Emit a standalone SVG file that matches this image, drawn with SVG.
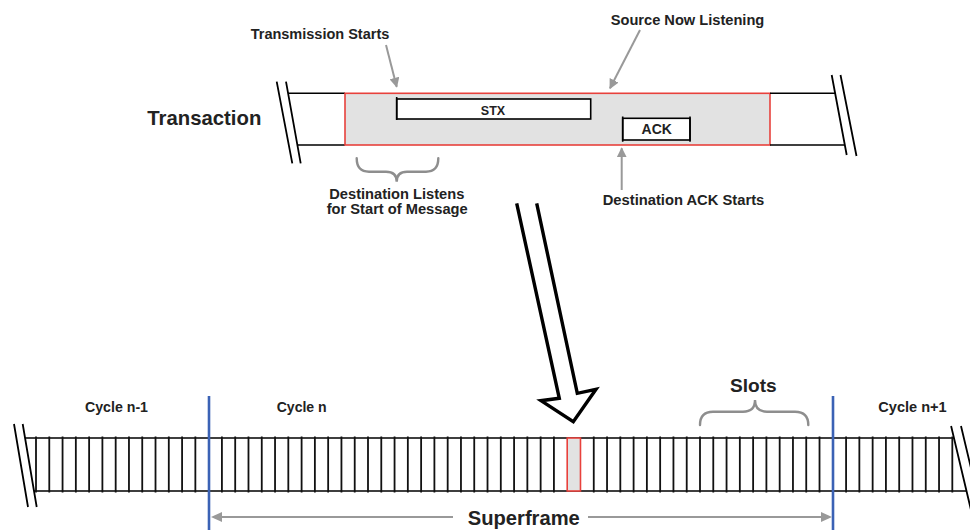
<svg xmlns="http://www.w3.org/2000/svg" width="970" height="530" viewBox="0 0 970 530">
  <style>
    .lbl { font-family: "Liberation Sans", Arial, sans-serif; font-weight: bold; fill: #222; }
    .edge { stroke: #000; stroke-width: 1.6; fill: none; }
    .tick { stroke: #111; stroke-width: 1.8; fill: none; }
    .slash { stroke: #000; stroke-width: 1.8; fill: none; }
    .window { fill: #e2e2e2; stroke: #e8413c; stroke-width: 1.6; }
    .box { fill: #fff; stroke: #000; stroke-width: 1.6; }
    .note { stroke: #999; stroke-width: 2; fill: none; }
    .brace { stroke: #8e8e8e; stroke-width: 2.4; fill: none; stroke-linecap: round; }
    .cycle { stroke: #3b62b5; stroke-width: 2.6; }
  </style>
  <defs>
    <marker id="head" viewBox="0 0 10 10" refX="9" refY="5" markerWidth="5" markerHeight="5" orient="auto" markerUnits="strokeWidth">
      <path d="M0,0 L10,5 L0,10 z" fill="#999"/>
    </marker>
  </defs>
  <rect width="970" height="530" fill="#fff"/>

  <!-- Transaction timeline -->
  <g id="transaction">
    <text class="lbl" x="147.3" y="125" font-size="21" textLength="114" lengthAdjust="spacingAndGlyphs">Transaction</text>
    <path class="slash" d="M276.7,81.7 L292.3,163.3 M286,81.7 L300.7,163.3"/>
    <path class="edge" d="M288,93.3 H345 M297.5,145 H345"/>
    <rect class="window" x="345" y="93.3" width="425" height="51.7"/>
    <path class="edge" d="M770,93.3 H835 M770,145 H845"/>
    <path class="slash" d="M831.7,75 L846.7,155 M840.5,75 L856.5,156"/>
  </g>

  <g id="stx">
    <rect class="box" x="396.7" y="99" width="194" height="20"/>
    <path class="edge" d="M396.7,97 V120"/>
    <text class="lbl" x="493" y="115" font-size="12.5" text-anchor="middle">STX</text>
  </g>

  <g id="ack">
    <rect class="box" x="622.7" y="118.3" width="67.3" height="21.7"/>
    <path class="edge" d="M622.7,116.5 V141.8 M690,116.5 V141.8"/>
    <text class="lbl" x="656.7" y="134.3" font-size="14" text-anchor="middle">ACK</text>
  </g>

  <g id="label-transmission-starts">
    <text class="lbl" x="250.7" y="39.3" font-size="14" textLength="138.6" lengthAdjust="spacingAndGlyphs">Transmission Starts</text>
  </g>
  <g id="label-source-listening">
    <text class="lbl" x="610.7" y="25" font-size="14" textLength="153.6" lengthAdjust="spacingAndGlyphs">Source Now Listening</text>
  </g>
  <g id="label-destination-ack">
    <text class="lbl" x="602.7" y="205" font-size="14" textLength="161.6" lengthAdjust="spacingAndGlyphs">Destination ACK Starts</text>
  </g>
  <g id="label-destination-listens">
    <path class="brace" d="M356.7,158.3 Q356.7,171.7 369,171.7 L386,171.7 Q396.7,171.7 396.7,181.7 Q396.7,171.7 407,171.7 L426,171.7 Q438.3,171.7 438.3,158.3"/>
    <text class="lbl" x="329.3" y="199" font-size="14" textLength="135" lengthAdjust="spacingAndGlyphs">Destination Listens</text>
    <text class="lbl" x="326.7" y="214.3" font-size="14" textLength="141" lengthAdjust="spacingAndGlyphs">for Start of Message</text>
  </g>

  <!-- Superframe slot strip -->
  <g id="slot-strip">
    <path class="slash" d="M14,424 L28,507 M22.7,424 L36.7,507"/>
    <path class="slash" d="M951.1,426 L971,510 M961,426 L981,510"/>
    <path class="edge" d="M25,438 H954 M34,491 H966.7"/>
    <path class="tick" d="M36,436.5 V492.5 M49.28,436.5 V492.5 M62.56,436.5 V492.5 M75.84,436.5 V492.5 M89.12,436.5 V492.5 M102.4,436.5 V492.5 M115.68,436.5 V492.5 M128.96,436.5 V492.5 M142.24,436.5 V492.5 M155.52,436.5 V492.5 M168.8,436.5 V492.5 M182.08,436.5 V492.5 M195.36,436.5 V492.5 M221.92,436.5 V492.5 M235.2,436.5 V492.5 M248.48,436.5 V492.5 M261.76,436.5 V492.5 M275.04,436.5 V492.5 M288.32,436.5 V492.5 M301.6,436.5 V492.5 M314.88,436.5 V492.5 M328.16,436.5 V492.5 M341.44,436.5 V492.5 M354.72,436.5 V492.5 M368,436.5 V492.5 M381.28,436.5 V492.5 M394.56,436.5 V492.5 M407.84,436.5 V492.5 M421.12,436.5 V492.5 M434.4,436.5 V492.5 M447.68,436.5 V492.5 M460.96,436.5 V492.5 M474.24,436.5 V492.5 M487.52,436.5 V492.5 M500.8,436.5 V492.5 M514.08,436.5 V492.5 M527.36,436.5 V492.5 M540.64,436.5 V492.5 M553.92,436.5 V492.5 M593.76,436.5 V492.5 M607.04,436.5 V492.5 M620.32,436.5 V492.5 M633.6,436.5 V492.5 M646.88,436.5 V492.5 M660.16,436.5 V492.5 M673.44,436.5 V492.5 M686.72,436.5 V492.5 M700,436.5 V492.5 M713.28,436.5 V492.5 M726.56,436.5 V492.5 M739.84,436.5 V492.5 M753.12,436.5 V492.5 M766.4,436.5 V492.5 M779.68,436.5 V492.5 M792.96,436.5 V492.5 M806.24,436.5 V492.5 M819.52,436.5 V492.5 M846.08,436.5 V492.5 M859.36,436.5 V492.5 M872.64,436.5 V492.5 M885.92,436.5 V492.5 M899.2,436.5 V492.5 M912.48,436.5 V492.5 M925.76,436.5 V492.5 M939.04,436.5 V492.5 M952.32,436.5 V492.5"/>
    <rect class="window" x="567.2" y="438" width="13.28" height="53"/>
  </g>

  <g id="cycle-boundaries">
    <line class="cycle" x1="209" y1="396" x2="209" y2="530"/>
    <line class="cycle" x1="833" y1="396" x2="833" y2="530"/>
  </g>

  <g id="cycle-labels">
    <text class="lbl" x="85" y="412" font-size="14" textLength="63" lengthAdjust="spacingAndGlyphs">Cycle n-1</text>
    <text class="lbl" x="276.7" y="412" font-size="14" textLength="50" lengthAdjust="spacingAndGlyphs">Cycle n</text>
    <text class="lbl" x="878.3" y="411.7" font-size="14" textLength="68.4" lengthAdjust="spacingAndGlyphs">Cycle n+1</text>
  </g>

  <g id="slots">
    <path class="brace" d="M700,425 Q700,411.7 713,411.7 L743,411.7 Q755,411.7 755,400 Q755,411.7 767,411.7 L795,411.7 Q808.3,411.7 808.3,425"/>
    <text class="lbl" x="730" y="391.7" font-size="19" textLength="46.7" lengthAdjust="spacingAndGlyphs">Slots</text>
  </g>

  <g id="superframe-label">
    <text class="lbl" x="523.8" y="525" font-size="20" text-anchor="middle" textLength="112" lengthAdjust="spacingAndGlyphs">Superframe</text>
  </g>

  <!-- Connectors -->
  <g id="connectors">
    <line class="note" x1="386" y1="45" x2="396.7" y2="86.7" marker-end="url(#head)"/>
    <line class="note" x1="640" y1="30" x2="610" y2="88.3" marker-end="url(#head)"/>
    <line class="note" x1="621.7" y1="190" x2="621.7" y2="148.3" marker-end="url(#head)"/>
    <polyline points="516.7,203.3 559.3,398.3 541,400.7 573.3,421.7 596,389.3 577.3,393.3 536.7,203.3" fill="#fff" stroke="#000" stroke-width="3.4" stroke-linejoin="miter"/>
    <line class="note" x1="215" y1="517" x2="453" y2="517"/>
    <path d="M211,517 L222,512 L222,522 z" fill="#999"/>
    <line class="note" x1="588" y1="517" x2="828" y2="517"/>
    <path d="M832,517 L821,512 L821,522 z" fill="#999"/>
  </g>
</svg>
